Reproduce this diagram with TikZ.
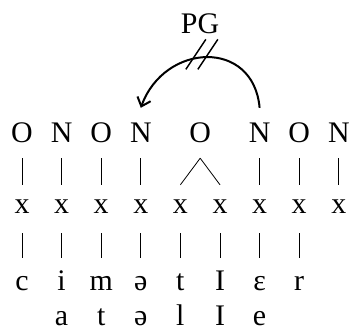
\documentclass[tikz,border=0pt]{standalone}
\usepackage{fontspec}
\setmainfont{Liberation Serif}
\usetikzlibrary{arrows.meta}
\tikzset{
	tier/.style={anchor=base, inner sep=0pt, font=\fontsize{30}{36}\selectfont},
	skel/.style={tier, text height=34bp, text depth=16bp},
	slot/.style={tier, text height=28bp, text depth=20bp},
	seg/.style={tier, text height=32bp},
	assoc/.style={line width=0.8bp},
}
\begin{document}
\begin{tikzpicture}[x=1bp, y=1bp, >={Straight Barb[length=8bp, width=14bp]}]
	\useasboundingbox (0,0) rectangle (352,331);
	\foreach \l/\c [count=\i] in {O/1,N/2,O/3,N/4,O/5.5,N/7,O/8,N/9}
	{
		\node[skel] (t\i) at ({22+39.6*(\c-1)},189) {\l};
	}
	\foreach \i in {1,...,9}
		\node[slot] (x\i) at ({22+39.6*(\i-1)},118) {x};
	\foreach \l [count=\i] in {c,i,m,ə,t,I,ɛ,r}
		\node[seg] (s\i) at ({22+39.6*(\i-1)},41) {\l};
	\foreach \l [count=\i from 2] in {a,t,ə,l,I,e}
		\node[seg] (u\i) at ({22+39.6*(\i-1)},6) {\l};
	% association lines
	\foreach \a/\b in {1/1,2/2,3/3,4/4,5/5,5/6,6/7,7/8,8/9}
		\draw[assoc] (t\a.south)--(x\b.north);
	\foreach \i in {1,...,8}
		\draw[assoc] (x\i.south)--(s\i.north);
	% blocked government
	\draw[->, line width=2bp] (t6.north) to[out=95, in=70, looseness=1.5] coordinate[pos=.5] (mid) (t4.north);
	\draw[line width=1.5bp] (mid) ++(-21,-12)--++(20,30);
	\draw[line width=1.5bp] (mid) ++(-9,-12)--++(20,30);
	\node[tier] (pg) at (200,298) {PG};
\end{tikzpicture}
\end{document}
